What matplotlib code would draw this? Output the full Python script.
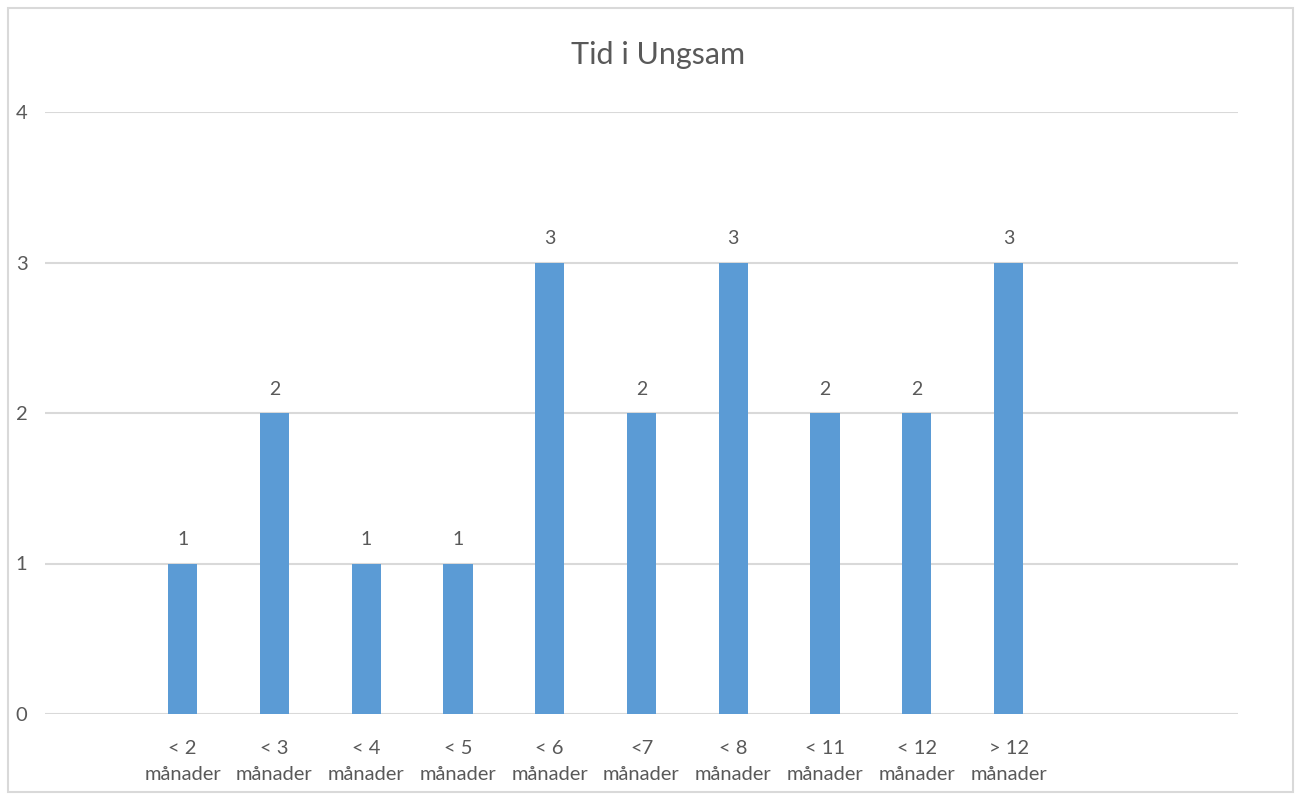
import matplotlib
matplotlib.use("Agg")
import matplotlib.pyplot as plt
from matplotlib.patches import Rectangle

# kategorier (tomma platser i början och slutet som i originalet)
kategorier = ["", "< 2\nmånader", "< 3\nmånader", "< 4\nmånader", "< 5\nmånader",
              "< 6\nmånader", "<7\nmånader", "< 8\nmånader", "< 11\nmånader",
              "< 12\nmånader", "> 12\nmånader", "", ""]
antal = [None, 1, 2, 1, 1, 3, 2, 3, 2, 2, 3, None, None]
yticks = [0, 1, 2, 3, 4]

plt.rcParams['font.family'] = ['Lato', 'DejaVu Sans']
grey = "#595959"

fig = plt.figure(figsize=(13, 7.96), dpi=100)
ax = fig.add_axes([45/1300, 82/796, 1193/1300, 602/796])

pos = [i for i, v in enumerate(antal) if v is not None]
vals = [v for v in antal if v is not None]
bars = ax.bar(pos, vals, width=0.32, color="#5b9bd5", zorder=3)
for b, v in zip(bars, vals):
    ax.text(b.get_x() + b.get_width()/2, v + 0.1, str(v), ha="center", va="bottom",
            fontsize=14, color=grey)

ax.set_xlim(-0.5, len(kategorier) - 0.5)
ax.set_ylim(0, 4)
ax.set_xticks(range(len(kategorier)))
ax.set_xticklabels(kategorier, fontsize=14.5, color=grey, linespacing=1.65)
ax.set_yticks(yticks)
ax.set_yticklabels([str(t) for t in yticks], fontsize=14.5, color=grey)
ax.tick_params(axis="both", length=0)
ax.tick_params(axis="x", pad=19)
ax.tick_params(axis="y", pad=21)
for lbl in ax.get_yticklabels():
    lbl.set_horizontalalignment("left")
ax.grid(axis="y", color="#d9d9d9", linewidth=1.5, zorder=0)
for s in ax.spines.values():
    s.set_visible(False)

fig.text(658/1300, 1 - 55/796, "Tid i Ungsam", ha="center", va="center",
         fontsize=22, color=grey)
fig.patches.append(Rectangle((8/1300, 4/796), 1285/1300, 784/796, transform=fig.transFigure,
                             fill=False, edgecolor="#d9d9d9", linewidth=1.5))

fig.savefig("out.png", dpi=100)
